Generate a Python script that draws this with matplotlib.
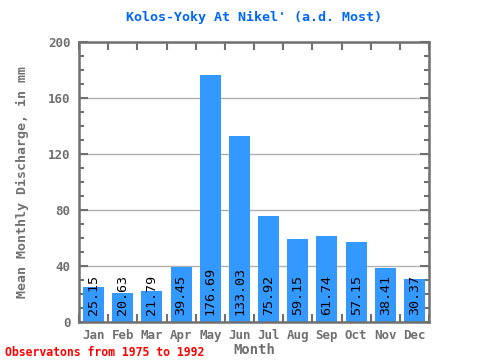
import numpy as np
import matplotlib.pyplot as plt
from matplotlib.ticker import MultipleLocator

months = ['Jan', 'Feb', 'Mar', 'Apr', 'May', 'Jun', 'Jul', 'Aug', 'Sep', 'Oct', 'Nov', 'Dec']
discharge = [25.15, 20.63, 21.79, 39.45, 176.69, 133.03, 75.92, 59.15, 61.74, 57.15, 38.41, 30.37]
labels = ['25.15', '20.63', '21.79', '39.45', '176.69', '133.03', '75.92', '59.15', '61.74', '57.15', '38.41', '30.37']

mono = 'DejaVu Sans Mono'
gray = '#707070'

fig = plt.figure(figsize=(4.8, 3.6), dpi=100)
ax = fig.add_axes([0.1646, 0.1056, 0.7292, 0.7777])

x = np.arange(len(months))
ax.bar(x, discharge, width=0.72, color='#3399ff', zorder=2)
for xi, lab in zip(x, labels):
    ax.text(xi, 5, lab, rotation=90, ha='center', va='bottom', family=mono,
            fontsize=9.6, color='black', zorder=3)

ax.set_xlim(-0.5, 11.5)
ax.set_ylim(0, 200)
ax.yaxis.set_major_locator(MultipleLocator(40))
ax.yaxis.set_minor_locator(MultipleLocator(10))
ax.grid(axis='y', which='major', color='#b0b0b0', linewidth=1, zorder=1)

ax.set_xticks(x)
ax.set_xticklabels(months)
ax.set_xticks(np.arange(-0.5, 12, 1), minor=True)
ax.tick_params(axis='x', which='major', length=0, pad=5)
ax.tick_params(axis='x', which='minor', direction='in', length=6, width=1.5,
               color=gray, top=True, bottom=True)
ax.tick_params(axis='y', which='major', direction='in', length=6.5, width=1.5,
               color=gray, left=True, right=True, pad=6)
ax.tick_params(axis='y', which='minor', direction='in', length=3.6, width=1.5,
               color=gray, left=True, right=True)
for lab in ax.get_xticklabels() + ax.get_yticklabels():
    lab.set_family(mono)
    lab.set_fontsize(9)
    lab.set_fontweight('bold')
    lab.set_color(gray)

for s in ax.spines.values():
    s.set_color(gray)
    s.set_linewidth(1.8)

ax.set_title("Kolos-Yoky At Nikel' (a.d. Most)", family=mono, fontsize=9.6,
             fontweight='bold', color='#0066ff', pad=15)
ax.set_xlabel('Month', family=mono, fontsize=10, fontweight='bold', color=gray, labelpad=1)
ax.set_ylabel('Mean Monthly Discharge, in mm', family=mono, fontsize=9.5,
              fontweight='bold', color=gray, labelpad=14)

fig.text(0.01, 0.012, 'Observatons from 1975 to 1992', family=mono, fontsize=8.3,
         fontweight='bold', color='red')

fig.savefig('out.png', dpi=100)
